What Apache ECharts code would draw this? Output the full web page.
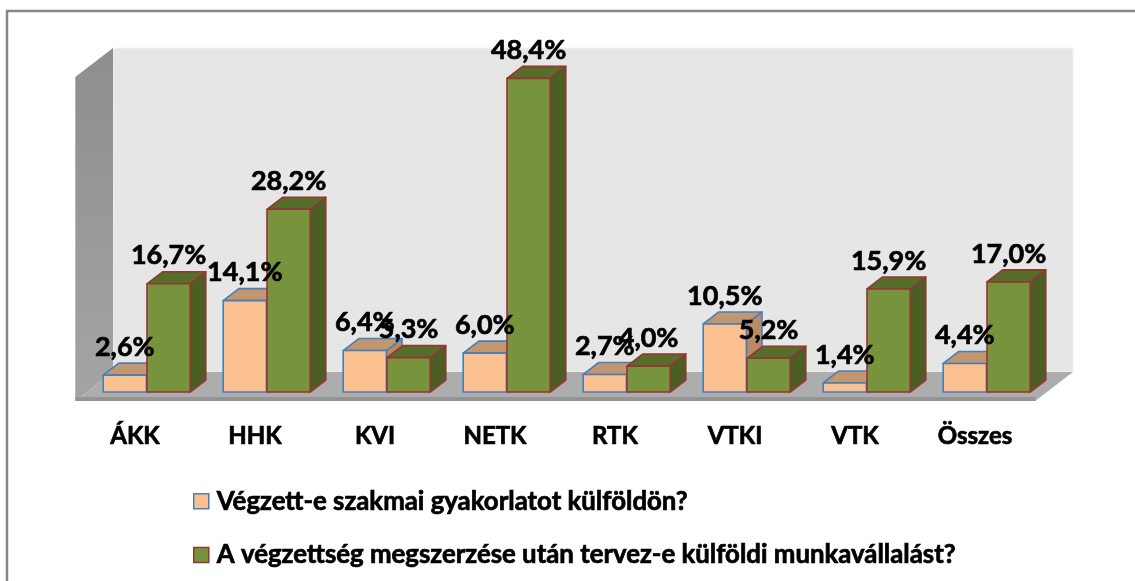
<!DOCTYPE html>
<html><head><meta charset="utf-8">
<script src="https://cdn.jsdelivr.net/npm/echarts@6/dist/echarts.min.js"></script>
<style>html,body{margin:0;padding:0;background:#fff;}#c{width:1135px;height:581px;}</style>
</head><body><div id="c"></div>
<script>
const categories = ['ÁKK', 'HHK', 'KVI', 'NETK', 'RTK', 'VTKI', 'VTK', 'Összes'];
const practiceAbroad = [2.6, 14.1, 6.4, 6.0, 2.7, 10.5, 1.4, 4.4];
const planWorkAbroad = [16.7, 28.2, 5.3, 48.4, 4.0, 5.2, 15.9, 17.0];
const seriesNames = ['Végzett-e szakmai gyakorlatot külföldön?', 'A végzettség megszerzése után tervez-e külföldi munkavállalást?'];
const axisMin = 0, axisMax = 50;

const FONT = 'Lato';
const WEIGHT = 'bold';
const EMB = 0.7; // extra stroke to thicken glyphs
const SLOPE = 1.3;       // horizontal shift per unit of depth
const BAR_DEPTH = 12;
const styles = [
  {front:'#FAC090', top:'#C2976F', side:'#B88B64', border:'#4A7EBB'},
  {front:'#77933C', top:'#566E2A', side:'#4B5F25', border:'#943634'}
];
const fmt = v => v.toFixed(1).replace('.', ',') + '%';

function barGeom(api, which){
  const idx = api.value(0), val = api.value(1);
  const base = api.coord([idx, 0]);
  const top = api.coord([idx, val]);
  const bw = api.size([1, 0])[0];
  const w = bw * 0.36;
  const xL = which === 0 ? base[0] - w - bw*0.005 : base[0];
  return {xL, w, yT: top[1], yB: base[1], val};
}

function renderBar(which){
  return function(params, api){
    const g = barGeom(api, which);
    const s = styles[which];
    const dx = SLOPE*BAR_DEPTH, dy = BAR_DEPTH;
    const {xL, w, yT, yB} = g;
    const ls = {stroke:s.border, lineWidth:1.6, lineJoin:'round'};
    return {type:'group', children:[
      {type:'polygon', shape:{points:[[xL+w,yT],[xL+w+dx,yT-dy],[xL+w+dx,yB-dy],[xL+w,yB]]}, style:Object.assign({fill:s.side}, ls)},
      {type:'polygon', shape:{points:[[xL,yT],[xL+w,yT],[xL+w+dx,yT-dy],[xL+dx,yT-dy]]}, style:Object.assign({fill:s.top}, ls)},
      {type:'rect', shape:{x:xL, y:yT, width:w, height:yB-yT}, style:Object.assign({fill:s.front}, ls)}
    ]};
  };
}

function renderLabel(which){
  return function(params, api){
    const g = barGeom(api, which);
    return {type:'text', style:{
      text: fmt(g.val), x: g.xL + g.w/2, y: g.yT - 28,
      align:'center', verticalAlign:'middle', textAlign:'center', textVerticalAlign:'middle',
      fontFamily: FONT, fontWeight:WEIGHT, fontSize:27, fill:'#000', stroke:'#000', lineWidth:EMB
    }};
  };
}

function renderFrame(params, api){
  const cs = params.coordSys;
  const x0 = cs.x, x1 = cs.x + cs.width, yT = cs.y, yB = cs.y + cs.height;
  const kb = 20, kf = -9;
  const P = (x, y, k) => [x + SLOPE*k, y - k];
  return {type:'group', children:[
    {type:'polygon', shape:{points:[P(x0,yT,kb),P(x1,yT,kb),P(x1,yB,kb),P(x0,yB,kb)]}, style:{fill:'#E6E6E6', stroke:'#F2F2F2', lineWidth:1}},
    {type:'polygon', shape:{points:[P(x0,yT,kf),P(x0,yT,kb),P(x0,yB,kb),P(x0,yB,kf)]},
      style:{fill:new echarts.graphic.LinearGradient(0,0,0,1,[{offset:0,color:'#8E8E8E'},{offset:1,color:'#A4A4A4'}])}},
    {type:'polygon', shape:{points:[P(x0,yB,kf),P(x1,yB,kf),P(x1,yB,kb),P(x0,yB,kb)]}, style:{fill:'#ADADAD'}},
    {type:'polygon', shape:{points:[P(x0,yB-4,kf),P(x1,yB-4,kf),P(x1,yB,kf),P(x0,yB,kf)]}, style:{fill:'#959595'}}
  ]};
}

const chart = echarts.init(document.getElementById('c'), null, {renderer:'canvas'});
chart.setOption({
  animation:false,
  backgroundColor:'#fff',
  graphic:[{type:'rect', shape:{x:7, y:11, width:1140, height:600}, style:{fill:'none', stroke:'#878787', lineWidth:2.5}, z:100}],
  grid:{left:87, right:88, top:68, bottom:189},
  legend:{
    orient:'vertical', left:193, top:488, padding:0, itemWidth:15, itemHeight:15, itemGap:27,
    selectedMode:false, icon:'rect',
    textStyle:{fontFamily:FONT, fontWeight:WEIGHT, fontSize:25.8, lineHeight:22, color:'#000', padding:[0,0,0,3],
      textBorderColor:'#000', textBorderWidth:EMB},
    data:[
      {name:seriesNames[0], itemStyle:{color:styles[0].front, borderColor:styles[0].border, borderWidth:1.5}},
      {name:seriesNames[1], itemStyle:{color:styles[1].front, borderColor:styles[1].border, borderWidth:1.5}}
    ]
  },
  xAxis:{type:'category', data:categories, axisLine:{show:false}, axisTick:{show:false},
    axisLabel:{margin:32, fontFamily:FONT, fontWeight:WEIGHT, fontSize:24, color:'#000', padding:[0,24,0,0],
      textBorderColor:'#000', textBorderWidth:EMB}},
  yAxis:{type:'value', min:axisMin, max:axisMax, show:false},
  series:[
    {type:'custom', name:'frame', data:[[0,0]], renderItem:renderFrame, clip:false, z:1, silent:true, encode:{x:0,y:1}},
    {type:'custom', name:seriesNames[0], data:practiceAbroad.map((v,i)=>[i,v]), encode:{x:0,y:1}, renderItem:renderBar(0), clip:false, z:2,
      itemStyle:{color:styles[0].front, borderColor:styles[0].border}},
    {type:'custom', name:seriesNames[1], data:planWorkAbroad.map((v,i)=>[i,v]), encode:{x:0,y:1}, renderItem:renderBar(1), clip:false, z:3,
      itemStyle:{color:styles[1].front, borderColor:styles[1].border}},
    {type:'custom', name:'lab0', data:practiceAbroad.map((v,i)=>[i,v]), encode:{x:0,y:1}, renderItem:renderLabel(0), clip:false, z:10, silent:true},
    {type:'custom', name:'lab1', data:planWorkAbroad.map((v,i)=>[i,v]), encode:{x:0,y:1}, renderItem:renderLabel(1), clip:false, z:11, silent:true}
  ]
});
</script></body></html>
